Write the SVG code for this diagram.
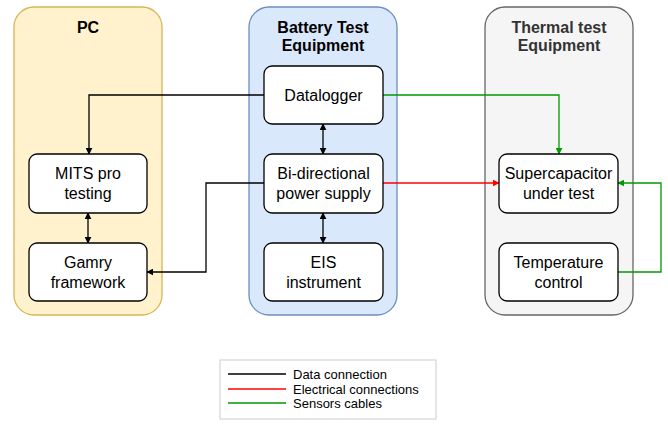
<svg xmlns="http://www.w3.org/2000/svg" width="668" height="424" viewBox="0 0 668 424">
<style>
.node rect{fill:#fff;stroke:#000;stroke-width:1.3}
.t{font-family:"Liberation Sans",Arial,sans-serif;font-size:16px;text-anchor:middle;fill:#000}
.h{font-family:"Liberation Sans",Arial,sans-serif;font-size:16px;font-weight:bold;text-anchor:middle}
.l{font-family:"Liberation Sans",Arial,sans-serif;font-size:13px;fill:#000}
.c{fill:none;stroke-width:1.3}
</style>
<defs>
<marker id="ak" viewBox="0 0 10 10" refX="9" refY="5" markerWidth="7" markerHeight="7" markerUnits="userSpaceOnUse" orient="auto-start-reverse"><path d="M0,0 L10,5 L0,10 Z" fill="#000"/></marker>
<marker id="ar" viewBox="0 0 10 10" refX="9" refY="5" markerWidth="7" markerHeight="7" markerUnits="userSpaceOnUse" orient="auto"><path d="M0,0 L10,5 L0,10 Z" fill="#ff0000"/></marker>
<marker id="ag" viewBox="0 0 10 10" refX="9" refY="5" markerWidth="7" markerHeight="7" markerUnits="userSpaceOnUse" orient="auto"><path d="M0,0 L10,5 L0,10 Z" fill="#009900"/></marker>
</defs>
<g id="pc"><rect x="14" y="7" width="148" height="308" rx="20" fill="#fff2cc" stroke="#d6b656" stroke-width="1.3"/><text class="h" x="88" y="33" fill="#000">PC</text></g>
<g id="battery"><rect x="249" y="7" width="148" height="308" rx="20" fill="#dae8fc" stroke="#6c8ebf" stroke-width="1.3"/><text class="h" x="323" y="33" fill="#000">Battery Test</text><text class="h" x="323" y="51" fill="#000">Equipment</text></g>
<g id="thermal"><rect x="485" y="7" width="148" height="308" rx="20" fill="#f5f5f5" stroke="#666" stroke-width="1.3"/><text class="h" x="559" y="33" fill="#333">Thermal test</text><text class="h" x="559" y="51" fill="#333">Equipment</text></g>
<g id="connectors">
<path class="c" stroke="#000" d="M264,95 H89 V154" marker-end="url(#ak)"/>
<path class="c" stroke="#000" d="M264,183 H206 V272 H147" marker-end="url(#ak)"/>
<path class="c" stroke="#000" d="M323,124 V154" marker-start="url(#ak)" marker-end="url(#ak)"/>
<path class="c" stroke="#000" d="M323,213 V243" marker-start="url(#ak)" marker-end="url(#ak)"/>
<path class="c" stroke="#000" d="M88,213 V243" marker-start="url(#ak)" marker-end="url(#ak)"/>
<path class="c" stroke="#009900" d="M383,95 H559 V154" marker-end="url(#ag)"/>
<path class="c" stroke="#ff0000" d="M383,183 H499" marker-end="url(#ar)"/>
<path class="c" stroke="#009900" d="M618,272 H661 V183 H618" marker-end="url(#ag)"/>
</g>
<g id="mits" class="node"><rect x="29" y="154" width="118" height="59" rx="8"/><text class="t" x="88" y="179">MITS pro</text><text class="t" x="88" y="199">testing</text></g>
<g id="gamry" class="node"><rect x="29" y="243" width="118" height="58" rx="8"/><text class="t" x="88" y="268">Gamry</text><text class="t" x="88" y="288">framework</text></g>
<g id="datalogger" class="node"><rect x="264" y="66" width="119" height="58" rx="8"/><text class="t" x="323.5" y="101">Datalogger</text></g>
<g id="bidir" class="node"><rect x="264" y="154" width="119" height="59" rx="8"/><text class="t" x="323.5" y="179">Bi-directional</text><text class="t" x="323.5" y="199">power supply</text></g>
<g id="eis" class="node"><rect x="264" y="243" width="119" height="58" rx="8"/><text class="t" x="323.5" y="268">EIS</text><text class="t" x="323.5" y="288">instrument</text></g>
<g id="supercap" class="node"><rect x="499" y="154" width="119" height="59" rx="8"/><text class="t" x="558.5" y="179">Supercapacitor</text><text class="t" x="558.5" y="199">under test</text></g>
<g id="temp" class="node"><rect x="499" y="243" width="119" height="58" rx="8"/><text class="t" x="558.5" y="268">Temperature</text><text class="t" x="558.5" y="288">control</text></g>
<g id="legend">
<rect x="220" y="360" width="216" height="59" fill="#fff" stroke="#ccc" stroke-width="1"/>
<line x1="228" y1="374" x2="286" y2="374" stroke="#000" stroke-width="1.3"/>
<line x1="228" y1="389" x2="286" y2="389" stroke="#ff0000" stroke-width="1.3"/>
<line x1="228" y1="403" x2="286" y2="403" stroke="#009900" stroke-width="1.3"/>
<text class="l" x="293" y="379">Data connection</text>
<text class="l" x="293" y="394">Electrical connections</text>
<text class="l" x="293" y="408">Sensors cables</text>
</g>
</svg>
